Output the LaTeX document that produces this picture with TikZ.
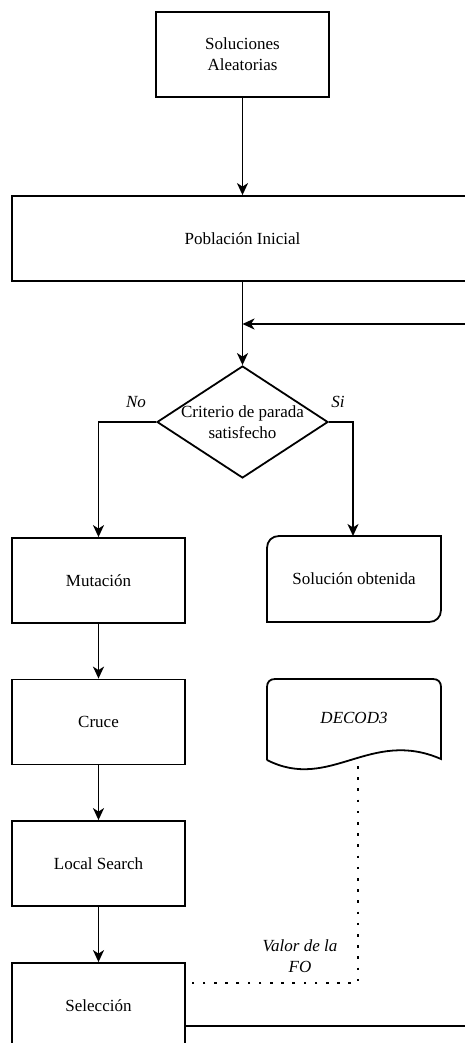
\documentclass[tikz,border=0pt]{standalone}
\usepackage{fontspec}
\setmainfont{Liberation Serif}
\usetikzlibrary{arrows.meta,shapes.geometric}
\begin{document}
\begin{tikzpicture}[x=1pt,y=-1pt,
  font=\fontsize{17}{21}\selectfont,
  line width=1.8pt,
  box/.style={draw, rectangle, minimum width=173pt, minimum height=85pt, inner sep=0pt, align=center},
  txt/.style={inner sep=0pt, align=center},
  arr/.style={-{Stealth[length=12pt,width=11pt,inset=3.5pt]}},
  lbl/.style={inner sep=0pt, align=center, font=\fontsize{17}{21}\selectfont\itshape},
  fo/.style={dash pattern=on 2.6pt off 8.6pt, line width=2.6pt}
]
\useasboundingbox (0,0) rectangle (465,1043);
\clip (0,0) rectangle (465,1043);

% main column
\node[box] (ini) at (242.5,54.5) {Soluciones\\Aleatorias};
\node[box, minimum width=461pt] (pob) at (242.5,238.5) {Población Inicial};
\node[draw, diamond, minimum width=171pt, minimum height=112pt, inner sep=0pt] (crit) at (242.5,422) {};
\node[txt] (critt) at (crit.center) {Criterio de parada\\satisfecho};

% left column
\node[box] (mut) at (98.5,580.5) {Mutación};
\node[box] (cru) at (98.5,722) {Cruce};
\node[box] (ls)  at (98.5,863.5) {Local Search};
\node[box] (sel) at (98.5,1005.5) {Selección};

% result card (rounded top-left and bottom-right corners)
\draw (267,622) -- (267,548) .. controls (267,541) and (272,536) .. (279,536)
      -- (441,536) -- (441,610) .. controls (441,617) and (436,622) .. (429,622) -- cycle;
\node[txt] (sol) at (354,579) {Solución obtenida};
\coordinate (soltop) at (353,536);

% document shape
\draw (267,760) -- (267,687) .. controls (267,682) and (270,679) .. (275,679)
      -- (433,679) .. controls (438,679) and (441,682) .. (441,687) -- (441,759)
      .. controls (370,728) and (330,792) .. (267,760);
\node[txt, font=\fontsize{17}{21}\selectfont\itshape] (dec) at (354,718) {DECOD3};
\coordinate (decb) at (358,766);

% branch labels
\node[lbl] (no) at (136,402) {No};
\node[lbl] (si) at (338,402) {Si};
\node[lbl] (fo) at (300,956.5) {Valor de la\\FO};

% connectors
\draw[arr] (ini.south) -- (ini.south |- pob.north);
\draw[arr] (pob.south) -- (crit.north);
\draw[arr] (crit.west) -| (mut.north);
\draw[arr] (crit.east) -| (soltop);
\draw[arr] (mut) -- (cru);
\draw[arr] (cru) -- (ls);
\draw[arr] (ls) -- (sel);

% loop back from selection
\coordinate (out) at (480,1026);
\coordinate (in)  at (480,324);
\coordinate (back) at (242.5,324);
\draw[arr] (sel.east |- out) -- (out) -- (in) -- (back);

% objective value link
\coordinate (corner) at (358,983);
\draw[fo] (decb) -- (corner) -- (sel.east |- corner);
\end{tikzpicture}
\end{document}
